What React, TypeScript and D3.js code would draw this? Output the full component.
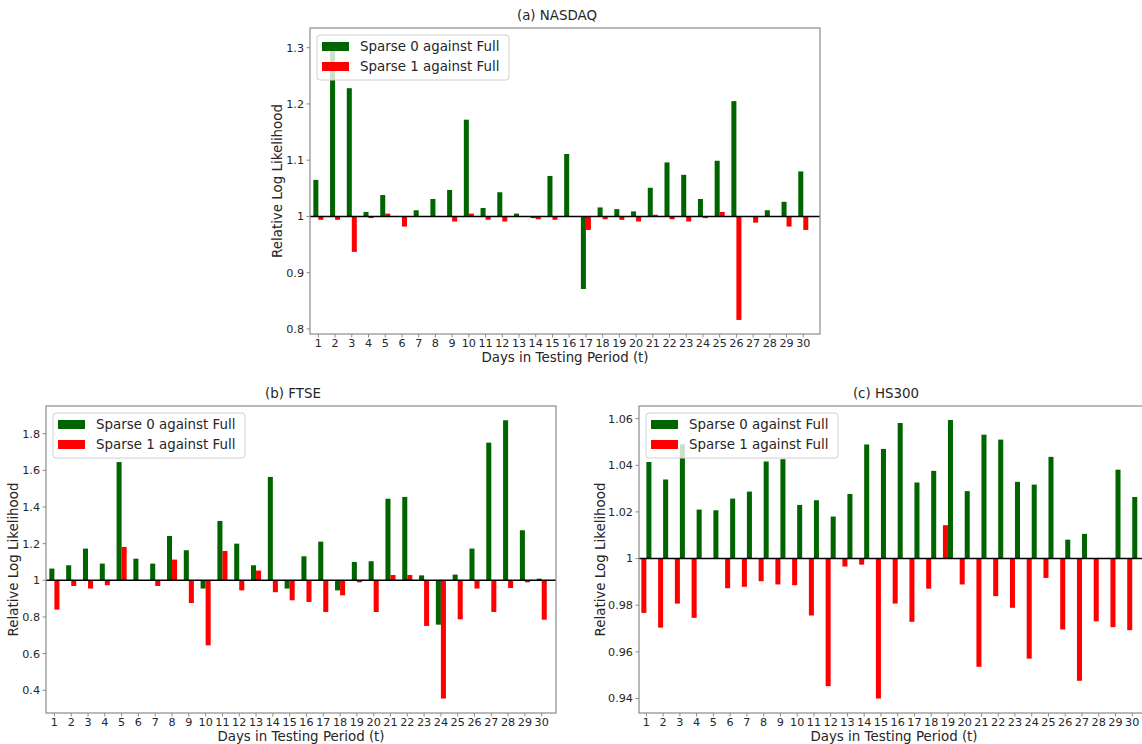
import * as d3 from "d3";

// day index on the x axis
const days = [1, 2, 3, 4, 5, 6, 7, 8, 9, 10, 11, 12, 13, 14, 15, 16, 17, 18, 19, 20, 21, 22, 23, 24, 25, 26, 27, 28, 29, 30];

const seriesNames = ["Sparse 0 against Full", "Sparse 1 against Full"];

// (a) NASDAQ
const nasdaqSparse0 = [1.065, 1.31, 1.228, 1.008, 1.038, 0.999, 1.011, 1.031, 1.047, 1.172, 1.015, 1.043, 1.005, 0.997, 1.072,
  1.111, 0.871, 1.016, 1.013, 1.009, 1.051, 1.096, 1.074, 1.031, 1.099, 1.205, 0.999, 1.011, 1.026, 1.08];
const nasdaqSparse1 = [0.994, 0.994, 0.937, 0.997, 1.005, 0.982, 1.0, 1.0, 0.991, 1.005, 0.994, 0.991, 1.0, 0.995, 0.994,
  1.0, 0.976, 0.995, 0.994, 0.991, 1.003, 0.995, 0.991, 0.997, 1.008, 0.816, 0.989, 1.0, 0.982, 0.976];
const nasdaqTicks = [0.8, 0.9, 1, 1.1, 1.2, 1.3];

// (b) FTSE
const ftseSparse0 = [1.064, 1.082, 1.173, 1.091, 1.645, 1.118, 1.091, 1.242, 1.164, 0.955, 1.324, 1.2, 1.082, 1.564, 0.955,
  1.131, 1.211, 0.945, 1.1, 1.104, 1.445, 1.455, 1.027, 0.758, 1.031, 1.173, 1.751, 1.873, 1.273, 1.009];
const ftseSparse1 = [0.84, 0.969, 0.955, 0.973, 1.182, 1.0, 0.969, 1.113, 0.876, 0.645, 1.16, 0.945, 1.053, 0.935, 0.891,
  0.882, 0.827, 0.918, 0.989, 0.827, 1.029, 1.029, 0.751, 0.355, 0.787, 0.955, 0.827, 0.958, 0.989, 0.785];
const ftseTicks = [0.4, 0.6, 0.8, 1, 1.2, 1.4, 1.6, 1.8];

// (c) HS300
const hs300Sparse0 = [1.0414, 1.0339, 1.049, 1.021, 1.0207, 1.0257, 1.0287, 1.0416, 1.0426, 1.023, 1.025, 1.018, 1.0277, 1.0489, 1.047,
  1.0581, 1.0326, 1.0376, 1.0594, 1.0289, 1.0531, 1.051, 1.0329, 1.0317, 1.0436, 1.0081, 1.0106, 1.0, 1.0381, 1.0264];
const hs300Sparse1 = [0.9767, 0.9704, 0.9807, 0.9746, 1.0, 0.9873, 0.9879, 0.9903, 0.9889, 0.9886, 0.9756, 0.9453, 0.9966, 0.9974, 0.94,
  0.9807, 0.9729, 0.9871, 1.0143, 0.9889, 0.9536, 0.9839, 0.9789, 0.9571, 0.9917, 0.9696, 0.9476, 0.9731, 0.9706, 0.9693];
const hs300Ticks = [0.94, 0.96, 0.98, 1, 1.02, 1.04, 1.06];

const GREEN = "#006400";
const RED = "#ff0000";
const SPINE = "#8c8c8c";
const TEXT = "#262626";
const FONT = "DejaVu Sans, sans-serif";

type PanelProps = {
  title: string;
  left: number;
  top: number;
  width: number;
  height: number;
  xDomain: [number, number];
  yDomain: [number, number];
  ticks: number[];
  s0: number[];
  s1: number[];
  redFirst?: boolean;
  titleShift?: number;
};

function Panel({ title, left, top, width, height, xDomain, yDomain, ticks, s0, s1, redFirst = false, titleShift = 0 }: PanelProps) {
  const x = d3.scaleLinear().domain(xDomain).range([0, width]);
  const y = d3.scaleLinear().domain(yDomain).range([height, 0]);
  const bw = x(0.3) - x(0);
  const base = y(1);

  // green on the left of the tick unless redFirst
  const off0 = redFirst ? 0 : -0.3;
  const off1 = redFirst ? -0.3 : 0;

  const bar = (v: number, d: number, off: number, color: string, key: string) => (
    <rect key={key} x={x(d + off)} width={bw} y={Math.min(y(v), base)} height={Math.abs(y(v) - base)} fill={color} />
  );

  return (
    <g transform={`translate(${left},${top})`} fontFamily={FONT}>
      {days.map((d, i) => bar(s0[i], d, off0, GREEN, `g${i}`))}
      {days.map((d, i) => bar(s1[i], d, off1, RED, `r${i}`))}
      <line x1={0} x2={width} y1={base} y2={base} stroke="#000" strokeWidth={1.4} />
      <rect x={0} y={0} width={width} height={height} fill="none" stroke={SPINE} strokeWidth={1.2} />

      {/* x axis */}
      {days.map((d) => (
        <g key={`xt${d}`} transform={`translate(${x(d)},${height})`}>
          <line y1={0} y2={3.5} stroke={SPINE} />
          <text y={13} textAnchor="middle" fontSize={11.2} fill={TEXT}>{d}</text>
        </g>
      ))}
      <text x={width / 2} y={height + 28} textAnchor="middle" fontSize={13.4} fill={TEXT}>Days in Testing Period (t)</text>

      {/* y axis */}
      {ticks.map((t) => (
        <g key={`yt${t}`} transform={`translate(0,${y(t)})`}>
          <line x1={-3.5} x2={0} stroke={SPINE} />
          <text x={-6} dy="0.35em" textAnchor="end" fontSize={11.2} fill={TEXT}>{String(t)}</text>
        </g>
      ))}
      <text transform={`translate(${ticks.some((t) => String(t).length > 3) ? -34 : -28},${height / 2}) rotate(-90)`}
        textAnchor="middle" fontSize={13.4} fill={TEXT}>Relative Log Likelihood</text>

      <text x={width / 2 + titleShift} y={-8} textAnchor="middle" fontSize={13.4} fill={TEXT}>{title}</text>

      {/* legend */}
      <g transform="translate(7,7)">
        <rect x={0} y={0} width={192} height={45} rx={3} fill="#fff" fillOpacity={0.8} stroke="#d0d0d0" />
        {seriesNames.map((n, i) => (
          <g key={n} transform={`translate(0,${11.5 + i * 20})`}>
            <rect x={5} y={-4.5} width={27} height={9} fill={i === 0 ? GREEN : RED} />
            <text x={43} dy="0.35em" fontSize={13.4} fill={TEXT}>{n}</text>
          </g>
        ))}
      </g>
    </g>
  );
}

export default function App() {
  return (
    <svg width={1142} height={744} style={{ position: "absolute", left: 0, top: 0, background: "#fff" }}>
      <Panel title="(a) NASDAQ" left={310} top={28} width={510} height={306} xDomain={[0.5, 31]} yDomain={[0.791, 1.335]}
        ticks={nasdaqTicks} s0={nasdaqSparse0} s1={nasdaqSparse1} titleShift={-8} />
      <Panel title="(b) FTSE" left={46} top={406} width={510} height={307} xDomain={[0.5, 30.85]} yDomain={[0.276, 1.951]}
        ticks={ftseTicks} s0={ftseSparse0} s1={ftseSparse1} titleShift={-8} />
      <Panel title="(c) HS300" left={639} top={406} width={510} height={307} xDomain={[0.56, 31]} yDomain={[0.9338, 1.0654]}
        ticks={hs300Ticks} s0={hs300Sparse0} s1={hs300Sparse1} redFirst titleShift={-8} />
    </svg>
  );
}
